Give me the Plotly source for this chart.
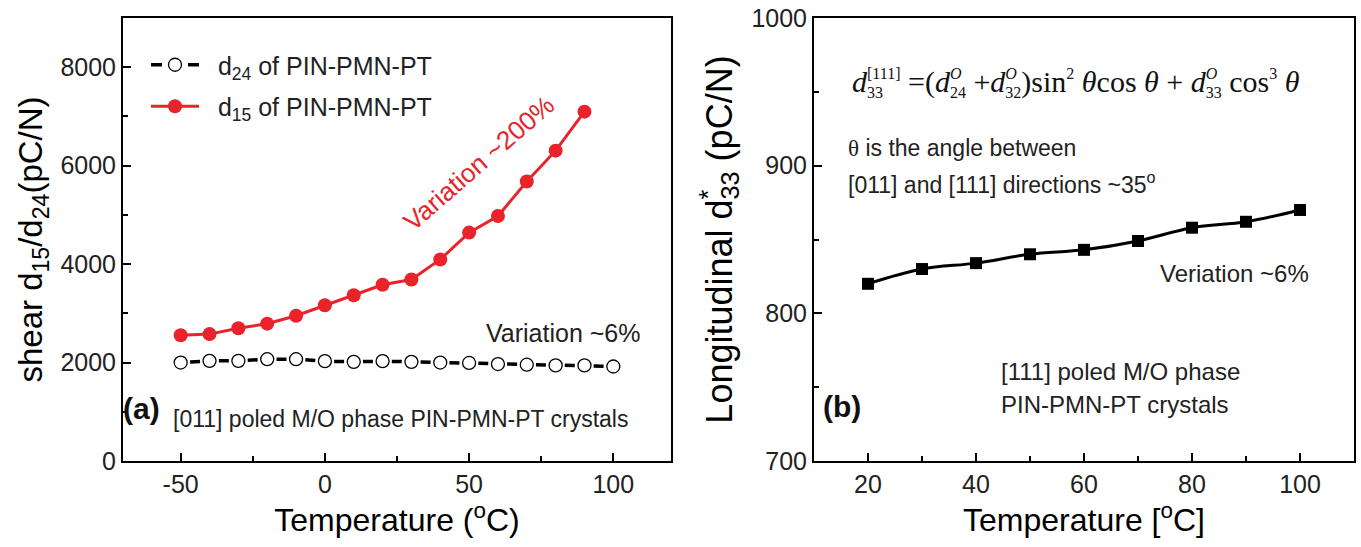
import plotly.graph_objects as go

# ---------------- data ----------------
temp_a_d24 = [-50, -40, -30, -20, -10, 0, 10, 20, 30, 40, 50, 60, 70, 80, 90, 100]
d24_values = [2000, 2035, 2035, 2068, 2068, 2028, 2015, 2028, 2015, 2000, 1992, 1970, 1956, 1942, 1942, 1920]

temp_a_d15 = [-50, -40, -30, -20, -10, 0, 10, 20, 30, 40, 50, 60, 70, 80, 90]
d15_values = [2555, 2578, 2698, 2790, 2952, 3164, 3368, 3580, 3686, 4095, 4640, 4978, 5678, 6305, 7097]

temp_b = [20, 30, 40, 50, 60, 70, 80, 90, 100]
d33_values = [820, 830, 834, 840, 843, 849, 858, 862, 870]

xticks_a = [-50, 0, 50, 100]
xticklabels_a = ["-50", "0", "50", "100"]
yticks_a = [0, 2000, 4000, 6000, 8000]
xticks_b = [20, 40, 60, 80, 100]
yticks_b = [700, 800, 900, 1000]

W, H = 1361, 547
def px(x):
    return x / W
def py(y):
    return 1 - y / H

RED = "#e8232a"
SANS = "Liberation Sans, Arial, sans-serif"
SERIF = "Liberation Serif, Times New Roman, serif"
NB = "\u00a0"

def back(width, size, space_em):
    """a no-break space whose letter-spacing pulls the pen back by `width` px"""
    return '<span style="letter-spacing:-%.2fpx">' % (width + space_em * size) + NB + "</span>"

fig = go.Figure()

# data traces
fig.add_trace(go.Scatter(
    x=temp_a_d24, y=d24_values, mode="lines+markers", showlegend=False,
    line=dict(color="black", width=3.5, dash="0px,9.4px,10px,9.44px"),
    marker=dict(symbol="circle-open", size=13, color="black", line=dict(width=1.3)),
    xaxis="x", yaxis="y"))

fig.add_trace(go.Scatter(
    x=temp_a_d15, y=d15_values, mode="lines+markers", showlegend=False,
    line=dict(color=RED, width=3),
    marker=dict(symbol="circle", size=14, color=RED),
    xaxis="x", yaxis="y"))

# legend entries (no data, legend styling only)
fig.add_trace(go.Scatter(
    x=[None], y=[None], mode="lines+markers",
    name=NB + NB + "d<sub>24</sub> of PIN-PMN-PT", legendgroup="g1",
    line=dict(color="black", width=3.5, dash="11px,26px,11px"),
    marker=dict(symbol="circle-open", size=13, color="black", line=dict(width=1.3)),
    xaxis="x", yaxis="y"))
fig.add_trace(go.Scatter(
    x=[None], y=[None], mode="lines+markers",
    name=NB + NB + "d<sub>15</sub> of PIN-PMN-PT", legendgroup="g2",
    line=dict(color=RED, width=3),
    marker=dict(symbol="circle", size=14, color=RED),
    xaxis="x", yaxis="y"))

fig.add_trace(go.Scatter(
    x=temp_b, y=d33_values, mode="lines+markers", showlegend=False,
    line=dict(color="black", width=3, shape="spline"),
    marker=dict(symbol="square", size=12, color="black"),
    xaxis="x2", yaxis="y2"))

axis_common = dict(
    showline=True, linewidth=2, linecolor="black", mirror=True,
    showgrid=False, zeroline=False,
    ticks="inside", ticklen=8, tickwidth=2, tickcolor="black",
    tickfont=dict(family=SANS, size=25, color="#222"),
    automargin=False,
)
def minor(d):
    return dict(dtick=d, tick0=0, ticks="inside", ticklen=5, tickwidth=2, tickcolor="black")

# right y title: "*" stacked over the "33" subscript (asterisk = 0.389 em, scripts 70 %)
YT2_SIZE = 36
YT2_SCR = 0.7 * YT2_SIZE
ytitle_b = ("Longitudinal d<sup>*" + back(0.389 * YT2_SCR, YT2_SCR, 0.278) + "</sup>"
            "<sub>33</sub> (pC/N)")

fig.update_layout(
    width=W, height=H,
    margin=dict(l=0, r=0, t=0, b=0),
    paper_bgcolor="white", plot_bgcolor="white",
    xaxis=dict(domain=[px(123), px(671)], range=[-70, 120],
               tickmode="array", tickvals=xticks_a, ticktext=xticklabels_a,
               minor=minor(25),
               title=dict(text="Temperature (<sup>o</sup>C)", font=dict(family=SANS, size=32, color="black"), standoff=6),
               anchor="y", **axis_common),
    yaxis=dict(domain=[py(461), py(18)], range=[0, 9000],
               tickmode="array", tickvals=yticks_a,
               minor=minor(1000),
               title=dict(text="shear d<sub>15</sub>/d<sub>24</sub>(pC/N)", font=dict(family=SANS, size=33, color="black"), standoff=8),
               anchor="x", **axis_common),
    xaxis2=dict(domain=[px(814), px(1354)], range=[10, 110],
                tickmode="array", tickvals=xticks_b,
                minor=minor(10),
                title=dict(text="Temperature [<sup>o</sup>C]", font=dict(family=SANS, size=32, color="black"), standoff=6),
                anchor="y2", **axis_common),
    yaxis2=dict(domain=[py(461), py(18)], range=[700, 1000],
                tickmode="array", tickvals=yticks_b,
                minor=minor(50),
                title=dict(text=ytitle_b, font=dict(family=SANS, size=YT2_SIZE, color="black"), standoff=8),
                anchor="x2", **axis_common),
    legend=dict(x=px(146), y=py(42), xanchor="left", yanchor="top",
                bgcolor="rgba(0,0,0,0)", font=dict(family=SANS, size=25, color="#222"),
                tracegroupgap=6, itemwidth=48),
    showlegend=True,
)

def ann(text, x, y, size, xanchor="left", color="#222", family=SANS, angle=0):
    fig.add_annotation(text=text, x=px(x), y=py(y), xref="paper", yref="paper",
                       xanchor=xanchor, yanchor="middle", showarrow=False,
                       textangle=angle, font=dict(family=family, size=size, color=color))

ann("Variation ~200%", 479, 163, 26, xanchor="center", color=RED, angle=-41)
ann("Variation ~6%", 484, 333, 25)
ann("<b>(a)</b>", 141, 408, 30, xanchor="center", color="#111")
ann("[011] poled M/O phase PIN-PMN-PT crystals", 171, 419, 23)

# equation with stacked sub/superscripts (Times metrics: digits 0.5 em, italic O 0.722 em, space 0.25 em)
EQ_SIZE = 30
SCR = 16
def scr(t):
    return '<span style="font-size:%dpx">' % SCR + t + "</span>"
def stack_sub_first(sub, sup):
    return ("<sub>" + scr(sub + back(0.5 * SCR * len(sub), SCR, 0.25)) + "</sub>"
            "<sup>" + scr(sup) + "</sup>")
def stack_sup_first(sub, sup_letter):
    return ("<sup><i>" + scr(sup_letter + back(0.722 * SCR, SCR, 0.25)) + "</i></sup>"
            "<sub>" + scr(sub) + "</sub>")

eq = ("<i>d</i>" + stack_sub_first("33", "[111]") + " =(" +
      "<i>d</i>" + stack_sup_first("24", "O") + " +" +
      "<i>d</i>" + stack_sup_first("32", "O") + ")sin" + "<sup>" + scr("2") + "</sup> <i>θ</i>cos <i>θ</i> + " +
      "<i>d</i>" + stack_sup_first("33", "O") + " cos" + "<sup>" + scr("3") + "</sup> <i>θ</i>")
ann(eq, 850, 83, EQ_SIZE, color="#111", family=SERIF)

ann("<span style=\"font-family:Liberation Serif\">θ</span> is the angle between", 846, 148, 23)
ann("[011] and [111] directions ~35<sup>o</sup>", 846, 183, 23)
ann("Veriation ~6%", 1158, 273, 24)
ann("[111] poled M/O phase", 999, 371, 24)
ann("PIN-PMN-PT crystals", 999, 404, 24)
ann("<b>(b)</b>", 842, 406, 30, xanchor="center", color="#111")

fig.write_html("out.html")
